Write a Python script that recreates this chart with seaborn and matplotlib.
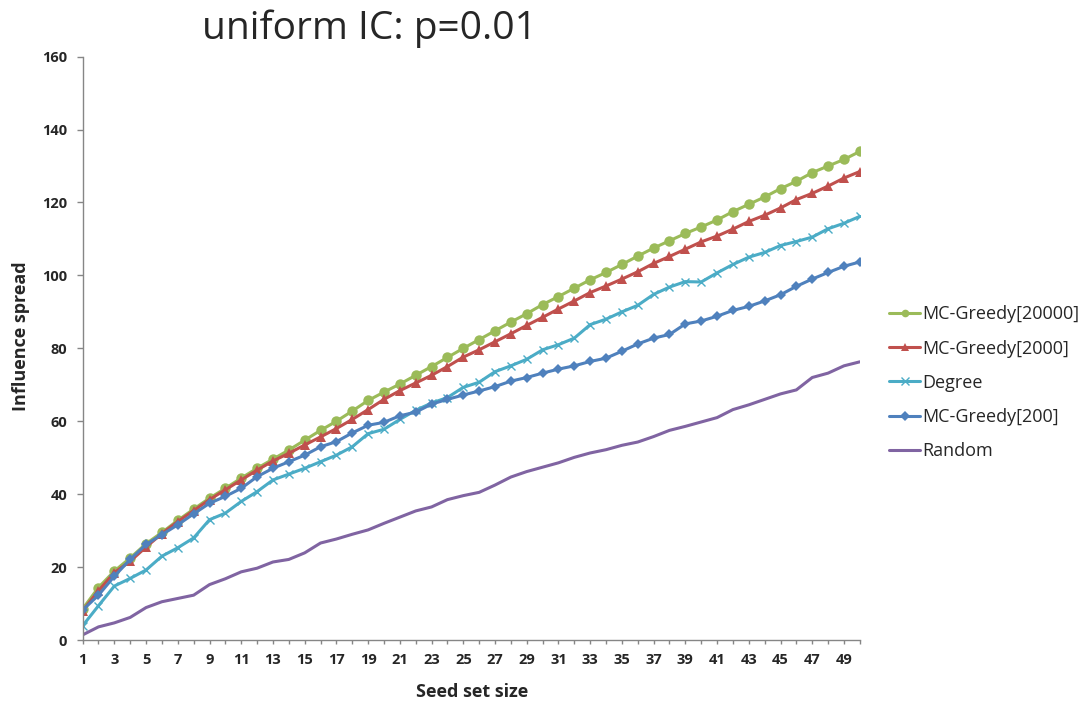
import numpy as np
import pandas as pd
import matplotlib
matplotlib.use("Agg")
import matplotlib.pyplot as plt
import seaborn as sns

seed_sizes = list(range(1, 51))
series_names = ["MC-Greedy[20000]", "MC-Greedy[2000]", "Degree", "MC-Greedy[200]", "Random"]

mc_greedy_20000 = [8.5, 14.4, 18.9, 22.5, 26.4, 29.5, 32.8, 35.9, 38.9, 41.6,
                   44.4, 47.1, 49.6, 52.1, 54.8, 57.5, 60.0, 62.8, 65.7, 68.0,
                   70.2, 72.6, 75.0, 77.5, 80.0, 82.4, 84.8, 87.2, 89.5, 92.0,
                   94.2, 96.5, 98.8, 100.8, 103.0, 105.3, 107.5, 109.5, 111.5, 113.3,
                   115.2, 117.5, 119.5, 121.5, 123.8, 125.8, 128.2, 130.0, 131.8, 134.0]
mc_greedy_2000 = [8.0, 13.5, 18.5, 21.6, 25.5, 29.2, 32.5, 35.5, 38.5, 41.2,
                  43.9, 46.6, 49.1, 51.2, 53.5, 55.7, 58.0, 60.5, 63.2, 66.0,
                  68.4, 70.5, 72.6, 75.0, 77.6, 79.6, 81.8, 84.0, 86.3, 88.5,
                  90.8, 93.0, 95.3, 97.1, 99.0, 101.0, 103.3, 105.2, 107.2, 109.2,
                  110.8, 112.7, 114.8, 116.5, 118.5, 120.8, 122.5, 124.5, 126.7, 128.5]
degree = [3.9, 9.4, 14.8, 16.9, 19.2, 23.0, 25.3, 28.0, 33.0, 34.8,
          38.0, 40.7, 43.9, 45.5, 47.1, 48.9, 50.7, 53.0, 56.6, 57.8,
          60.5, 63.0, 65.0, 66.5, 69.3, 70.7, 73.6, 75.2, 77.0, 79.6,
          81.0, 82.8, 86.5, 88.0, 90.0, 91.8, 94.8, 96.8, 98.3, 98.2,
          100.7, 103.0, 105.0, 106.3, 108.2, 109.3, 110.5, 112.8, 114.3, 116.2]
mc_greedy_200 = [8.2, 12.3, 17.5, 22.1, 26.2, 28.9, 31.6, 34.6, 37.5, 39.4,
                 41.6, 44.8, 47.1, 48.9, 50.7, 53.0, 54.4, 56.8, 58.9, 59.7,
                 61.5, 62.5, 64.7, 66.0, 67.2, 68.3, 69.5, 71.0, 72.0, 73.2,
                 74.3, 75.2, 76.4, 77.3, 79.2, 81.2, 82.8, 83.8, 86.7, 87.5,
                 88.8, 90.4, 91.5, 93.0, 94.7, 97.0, 99.0, 100.8, 102.5, 103.7]
random_sel = [1.4, 3.6, 4.7, 6.2, 8.9, 10.5, 11.4, 12.3, 15.2, 16.8,
              18.7, 19.7, 21.4, 22.1, 23.9, 26.6, 27.7, 29.0, 30.2, 32.0,
              33.7, 35.4, 36.5, 38.5, 39.6, 40.5, 42.5, 44.7, 46.2, 47.4,
              48.6, 50.1, 51.3, 52.2, 53.4, 54.3, 55.8, 57.5, 58.6, 59.8,
              61.0, 63.2, 64.5, 66.0, 67.5, 68.6, 72.0, 73.2, 75.2, 76.3]

y_ticks = [0, 20, 40, 60, 80, 100, 120, 140, 160]
x_tick_labels = [str(n) if n % 2 == 1 else "" for n in seed_sizes]

title_text = "uniform IC: p=0.01"
x_label = "Seed set size"
y_label = "Influence spread"

values = [mc_greedy_20000, mc_greedy_2000, degree, mc_greedy_200, random_sel]
colors = ["#9BBB59", "#C0504D", "#4BACC6", "#4F81BD", "#8064A2"]
markers = ["o", "^", "x", "D", None]
msizes = [7.5, 7.5, 6, 5.5, 0]

sns.set_theme(style="white")
plt.rcParams["font.family"] = ["Open Sans", "DejaVu Sans"]

fig = plt.figure(figsize=(10.87, 7.02), dpi=100)
ax = fig.add_axes([0.076, 0.0883, 0.715, 0.831])

for name, vals, c, m, ms in zip(series_names, values, colors, markers, msizes):
    df = pd.DataFrame({"x": seed_sizes, "y": vals})
    kw = dict(color=c, linewidth=2.2, label=name)
    if m is not None:
        kw.update(marker=m, markersize=ms, markeredgecolor=c, markerfacecolor=c)
        if m == "x":
            kw.update(markeredgewidth=1.0)
        else:
            kw.update(markeredgewidth=0)
    sns.lineplot(data=df, x="x", y="y", ax=ax, **kw)

ax.set_xlim(1, 50)
ax.set_ylim(0, 160)
ax.set_yticks(y_ticks)
ax.set_yticklabels([str(t) for t in y_ticks], fontweight="bold", fontsize=10.5)
ax.set_xticks(seed_sizes)
ax.set_xticklabels(x_tick_labels, fontweight="bold", fontsize=10.5)
ax.tick_params(axis="both", which="major", direction="out", width=1,
               color="#868686", bottom=True, left=True)
ax.tick_params(axis="y", length=4, pad=7)
ax.tick_params(axis="x", length=3, pad=6)

for s in ["top", "right"]:
    ax.spines[s].set_visible(False)
for s in ["left", "bottom"]:
    ax.spines[s].set_color("#868686")
    ax.spines[s].set_linewidth(1)

ax.set_xlabel(x_label, fontweight="bold", fontsize=13)
ax.set_ylabel(y_label, fontweight="bold", fontsize=13)
ax.xaxis.label.set_verticalalignment("center")
ax.yaxis.label.set_verticalalignment("center")
ax.xaxis.set_label_coords(0.501, -0.089)
ax.yaxis.set_label_coords(-0.079, 0.52)

fig.text(0.340, 0.959, title_text, fontsize=28, ha="center", va="center")

leg = ax.legend(loc="center left", bbox_to_anchor=(1.028, 0.441), frameon=False,
                borderaxespad=0, fontsize=13, handlelength=1.75,
                labelspacing=0.9, handletextpad=0.08)
for h in leg.legend_handles:
    h.set_markersize(5.5)

fig.savefig("out.png", dpi=100)
